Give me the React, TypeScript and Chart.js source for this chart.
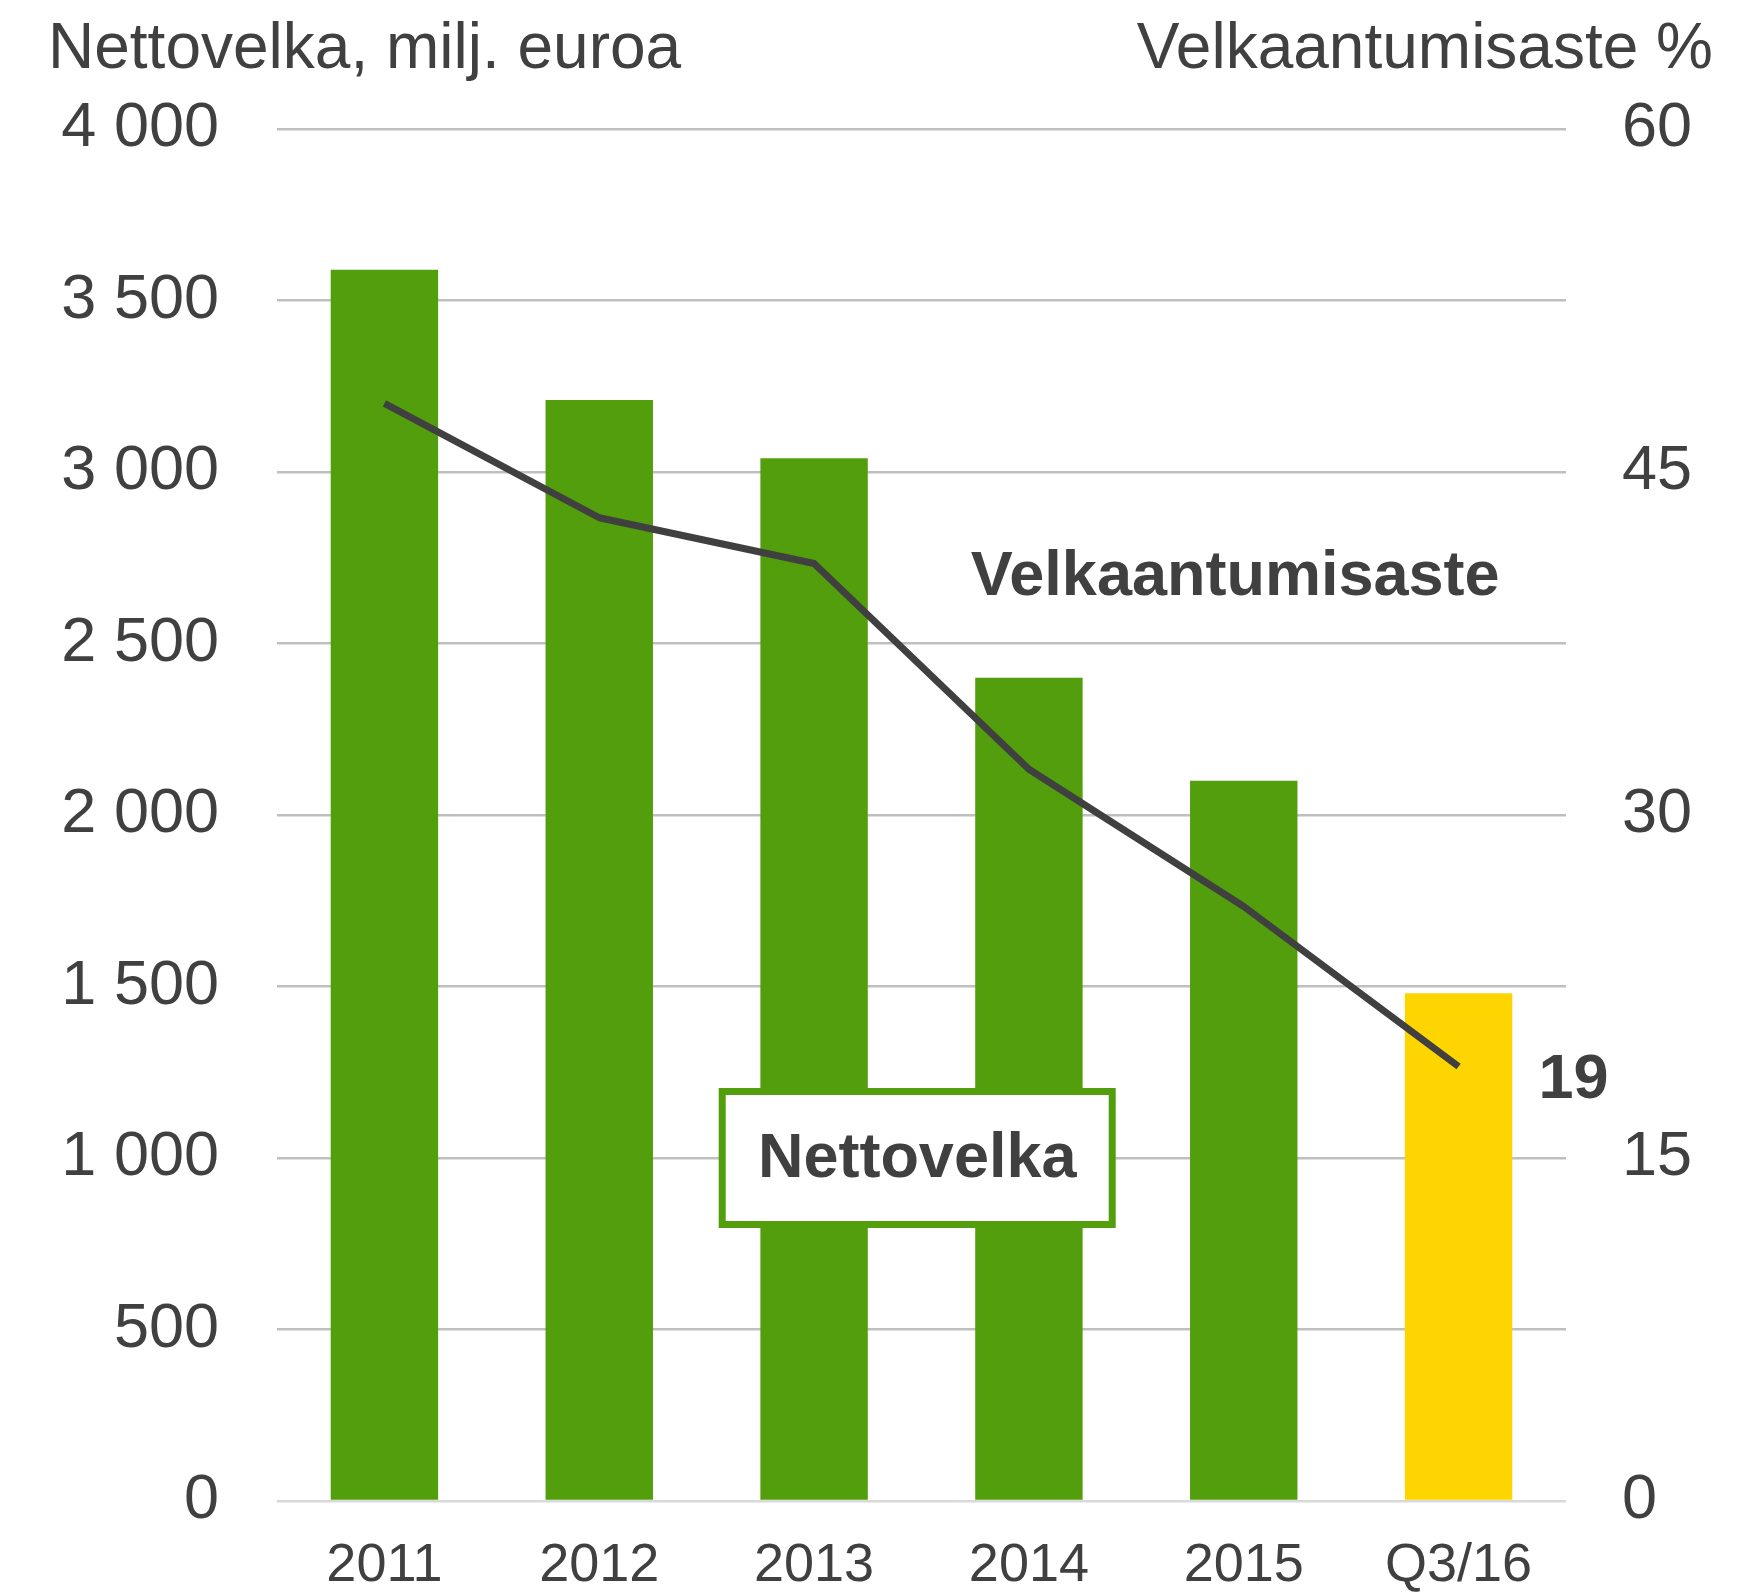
import React, { useEffect, useRef } from "react";
import { Chart, registerables } from "chart.js";

Chart.register(...registerables);

const categories = ["2011", "2012", "2013", "2014", "2015", "Q3/16"];
const nettovelka = [3590, 3210, 3040, 2400, 2100, 1480];
const velkaantumisaste = [48, 43, 41, 32, 26, 19];
const barColors = ["#529E0C", "#529E0C", "#529E0C", "#529E0C", "#529E0C", "#FFD500"];
const leftTitle = "Nettovelka, milj. euroa";
const rightTitle = "Velkaantumisaste %";
const lineLabel = "Velkaantumisaste";
const barLabel = "Nettovelka";
const lastValueLabel = "19";

const FONT = "'Liberation Sans', Arial, sans-serif";
const TEXT = "#404040";
const GREEN = "#529E0C";

const fmt = (v: number) => String(v).replace(/\B(?=(\d{3})+(?!\d))/g, " ");

const annotationPlugin = {
  id: "annotations",
  afterDraw(chart: any) {
    const ctx = chart.ctx;
    const x = chart.scales.x;
    const y = chart.scales.y;
    const y1 = chart.scales.y1;
    ctx.save();
    // axis titles
    ctx.fillStyle = TEXT;
    ctx.font = `64px ${FONT}`;
    ctx.textBaseline = "middle";
    ctx.textAlign = "left";
    ctx.fillText(leftTitle, 48, 50);
    ctx.textAlign = "right";
    ctx.fillText(rightTitle, 1713, 50);

    // Velkaantumisaste label
    ctx.font = `bold 63px ${FONT}`;
    ctx.textAlign = "center";
    ctx.fillText(lineLabel, x.getPixelForValue(3.96), y1.getPixelForValue(40.4));

    // Nettovelka box
    const cx = x.getPixelForValue(2.48);
    const cy = y.getPixelForValue(1000);
    const bw = 390;
    const bh = 133;
    ctx.fillStyle = "#FFFFFF";
    ctx.fillRect(cx - bw / 2, cy - bh / 2, bw, bh);
    ctx.strokeStyle = GREEN;
    ctx.lineWidth = 7;
    ctx.strokeRect(cx - bw / 2, cy - bh / 2, bw, bh);
    ctx.fillStyle = TEXT;
    ctx.fillText(barLabel, cx, cy + 2);

    // last value label
    const last = velkaantumisaste.length - 1;
    const px = x.getPixelForValue(last);
    const py = y1.getPixelForValue(velkaantumisaste[last]);
    ctx.textAlign = "left";
    ctx.fillText(lastValueLabel, px + 80, py + 14);
    ctx.restore();
  },
};

export default function App() {
  const ref = useRef<HTMLCanvasElement>(null);
  useEffect(() => {
    if (!ref.current) return;
    const chart = new Chart(ref.current, {
      type: "bar",
      data: {
        labels: categories,
        datasets: [
          {
            type: "line",
            label: lineLabel,
            data: velkaantumisaste,
            yAxisID: "y1",
            borderColor: "#404040",
            borderWidth: 7,
            pointRadius: 0,
            tension: 0,
            borderJoinStyle: "round",
            order: 0,
          } as any,
          {
            type: "bar",
            label: barLabel,
            data: nettovelka,
            yAxisID: "y",
            backgroundColor: barColors,
            categoryPercentage: 1,
            barPercentage: 0.5,
            order: 1,
          },
        ],
      },
      options: {
        responsive: false,
        animation: false,
        layout: { padding: { top: 129, left: 0, right: 0, bottom: 0 } },
        plugins: {
          legend: { display: false },
          tooltip: { enabled: false },
        },
        scales: {
          x: {
            grid: { display: false, drawTicks: false },
            border: { display: false },
            ticks: {
              color: TEXT,
              font: { family: FONT, size: 54 },
              padding: 33,
              maxRotation: 0,
            },
            afterFit(scale: any) {
              scale.height = 91;
            },
          },
          y: {
            position: "left",
            min: 0,
            max: 4000,
            border: { display: false },
            grid: {
              drawTicks: false,
              color: (c: any) => (c.tick && c.tick.value === 0 ? "#D9D9D9" : "#BFBFBF"),
              lineWidth: 2.5,
            },
            ticks: {
              stepSize: 500,
              color: TEXT,
              font: { family: FONT, size: 63 },
              padding: 58,
              callback: (v: any) => fmt(Number(v)),
            },
            afterFit(scale: any) {
              scale.width = 277;
              scale.paddingTop = 0;
              scale.paddingBottom = 0;
            },
          },
          y1: {
            position: "right",
            min: 0,
            max: 60,
            border: { display: false },
            grid: { display: false, drawTicks: false },
            ticks: {
              stepSize: 15,
              color: TEXT,
              font: { family: FONT, size: 63 },
              padding: 56,
            },
            afterFit(scale: any) {
              scale.width = 172;
              scale.paddingTop = 0;
              scale.paddingBottom = 0;
            },
          },
        },
      },
      plugins: [annotationPlugin],
    });
    return () => chart.destroy();
  }, []);
  return (
    <div style={{ position: "absolute", left: 0, top: 0, width: 1738, height: 1592, background: "#fff" }}>
      <canvas ref={ref} width={1738} height={1592} style={{ width: 1738, height: 1592 }} />
    </div>
  );
}
